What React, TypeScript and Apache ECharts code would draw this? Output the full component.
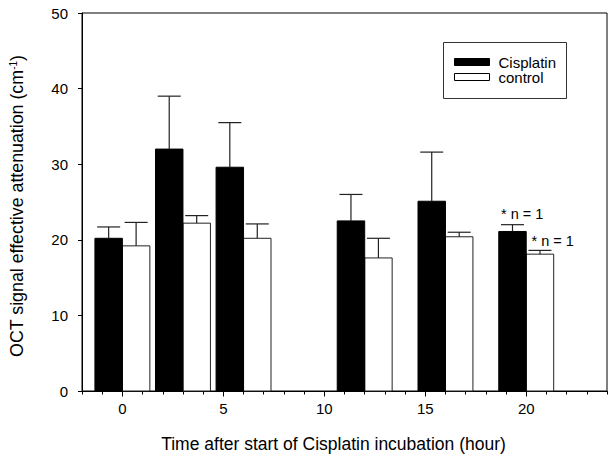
import React, { useEffect, useRef } from "react";
import * as echarts from "echarts";

const times = [0, 3, 6, 12, 16, 20];
const cisplatinMean = [20.2, 32.0, 29.6, 22.5, 25.1, 21.1];
const cisplatinSD = [1.5, 7.0, 5.9, 3.5, 6.5, 0.9];
const controlMean = [19.2, 22.2, 20.2, 17.6, 20.4, 18.1];
const controlSD = [3.1, 1.0, 1.9, 2.6, 0.6, 0.5];
const cisplatinNotes = ["", "", "", "", "", "* n = 1"];
const controlNotes = ["", "", "", "", "", "* n = 1"];
const xMajorTicks = [0, 5, 10, 15, 20];
const seriesNames = ["Cisplatin", "control"];

const FONT = "'Liberation Sans', Arial, sans-serif";
const BAR_W = 1.36; // bar width in hours
const CAP_HALF = 11.5;

function makeRender(side: number, fill: string, stroke: string, notes: string[], noteDx: number, noteDy: number) {
  return (params: any, api: any) => {
    const t = api.value(0);
    const m = api.value(1);
    const sd = api.value(2);
    const x0 = side < 0 ? t - BAR_W : t;
    const x1 = side < 0 ? t : t + BAR_W;
    const pTop = api.coord([x0, m]);
    const pBase = api.coord([x1, 0]);
    const cx = (pTop[0] + pBase[0]) / 2;
    const errY = api.coord([t, m + sd])[1];
    const children: any[] = [
      {
        type: "rect",
        shape: { x: pTop[0], y: pTop[1], width: pBase[0] - pTop[0], height: pBase[1] - pTop[1] },
        style: { fill, stroke, lineWidth: 1 },
      },
      {
        type: "line",
        shape: { x1: cx, y1: pTop[1], x2: cx, y2: errY },
        style: { stroke: "#222", lineWidth: 1.2 },
      },
      {
        type: "line",
        shape: { x1: cx - CAP_HALF, y1: errY, x2: cx + CAP_HALF, y2: errY },
        style: { stroke: "#222", lineWidth: 1.2 },
      },
    ];
    const note = notes[params.dataIndex];
    if (note) {
      children.push({
        type: "text",
        x: cx - CAP_HALF + noteDx,
        y: errY - noteDy,
        style: {
          text: note,
          fill: "#000",
          font: `14.5px ${FONT}`,
          textAlign: "left",
          textVerticalAlign: "middle",
        },
      });
    }
    return { type: "group", children };
  };
}

export default function App() {
  const ref = useRef<HTMLDivElement>(null);
  useEffect(() => {
    if (!ref.current) return;
    const chart = echarts.init(ref.current, null, { renderer: "svg" });
    const cisData = times.map((t, i) => [t, cisplatinMean[i], cisplatinSD[i]]);
    const ctrlData = times.map((t, i) => [t, controlMean[i], controlSD[i]]);
    chart.setOption({
      animation: false,
      backgroundColor: "#fff",
      textStyle: { fontFamily: FONT },
      grid: {
        left: 75,
        top: 13,
        width: 543.4,
        height: 380,
        show: true,
        borderColor: "#000",
        borderWidth: 1,
        backgroundColor: "transparent",
      },
      xAxis: [
        {
          type: "value",
          min: -2,
          max: 24,
          interval: 1,
          position: "bottom",
          axisLine: { show: true, onZero: false, lineStyle: { color: "#000", width: 1 } },
          axisTick: { show: true, length: 3.5, lineStyle: { color: "#000" } },
          axisLabel: {
            show: true,
            color: "#000",
            fontSize: 15,
            fontFamily: FONT,
            margin: 10,
            formatter: (v: number) => (xMajorTicks.indexOf(v) >= 0 ? String(v) : ""),
          },
          splitLine: { show: false },
          name: "Time after start of Cisplatin incubation (hour)",
          nameLocation: "middle",
          nameGap: 44,
          nameTextStyle: { color: "#000", fontSize: 17.5, fontFamily: FONT, padding: [0, 22, 0, 0] },
        },
        {
          type: "value",
          min: -2,
          max: 24,
          interval: 1,
          position: "bottom",
          axisLine: { show: false, onZero: false },
          axisTick: { show: true, length: 5.5, customValues: xMajorTicks, lineStyle: { color: "#000" } },
          axisLabel: { show: false },
          splitLine: { show: false },
        },
      ],
      yAxis: {
        type: "value",
        min: 0,
        max: 50,
        interval: 10,
        axisLine: { show: true, onZero: false, lineStyle: { color: "#000", width: 1 } },
        axisTick: { show: true, length: 4, lineStyle: { color: "#000" } },
        axisLabel: { color: "#000", fontSize: 15, fontFamily: FONT, margin: 14 },
        splitLine: { show: false },
        name: "OCT signal effective attenuation (cm{sup|-1})",
        nameLocation: "middle",
        nameGap: 56,
        nameTextStyle: {
          color: "#000",
          fontSize: 17.8,
          fontFamily: FONT,
          padding: [0, 8, 0, 0],
          rich: {
            sup: { fontSize: 10, fontFamily: FONT, color: "#000", verticalAlign: "top", padding: [0, 0, 8, 0] },
          },
        },
      },
      graphic: [
        {
          type: "group",
          left: 443,
          top: 42,
          children: [
            { type: "rect", shape: { x: 0, y: 0, width: 123, height: 56 }, style: { fill: "#fff", stroke: "#333", lineWidth: 1 } },
            { type: "rect", shape: { x: 11, y: 16, width: 35, height: 7 }, style: { fill: "#000", stroke: "#000", lineWidth: 1 } },
            { type: "rect", shape: { x: 11, y: 31, width: 35, height: 7 }, style: { fill: "#fff", stroke: "#000", lineWidth: 1 } },
            { type: "text", x: 55, y: 19.5, style: { text: seriesNames[0], fill: "#000", font: `15px ${FONT}`, textVerticalAlign: "middle" } },
            { type: "text", x: 55, y: 35, style: { text: seriesNames[1], fill: "#000", font: `15px ${FONT}`, textVerticalAlign: "middle" } },
          ],
        },
      ],
      series: [
        {
          name: seriesNames[0],
          type: "custom",
          xAxisIndex: 0,
          renderItem: makeRender(-1, "#000", "#000", cisplatinNotes, 0, 11),
          data: cisData,
          encode: { x: 0, y: [1, 2] },
          z: 3,
        },
        {
          name: seriesNames[1],
          type: "custom",
          xAxisIndex: 0,
          renderItem: makeRender(1, "#fff", "#222", controlNotes, 3, 9.5),
          data: ctrlData,
          encode: { x: 0, y: [1, 2] },
          z: 2,
        },
      ],
    });
    return () => chart.dispose();
  }, []);
  return <div ref={ref} style={{ position: "absolute", left: 0, top: 0, width: 610, height: 458 }} />;
}
